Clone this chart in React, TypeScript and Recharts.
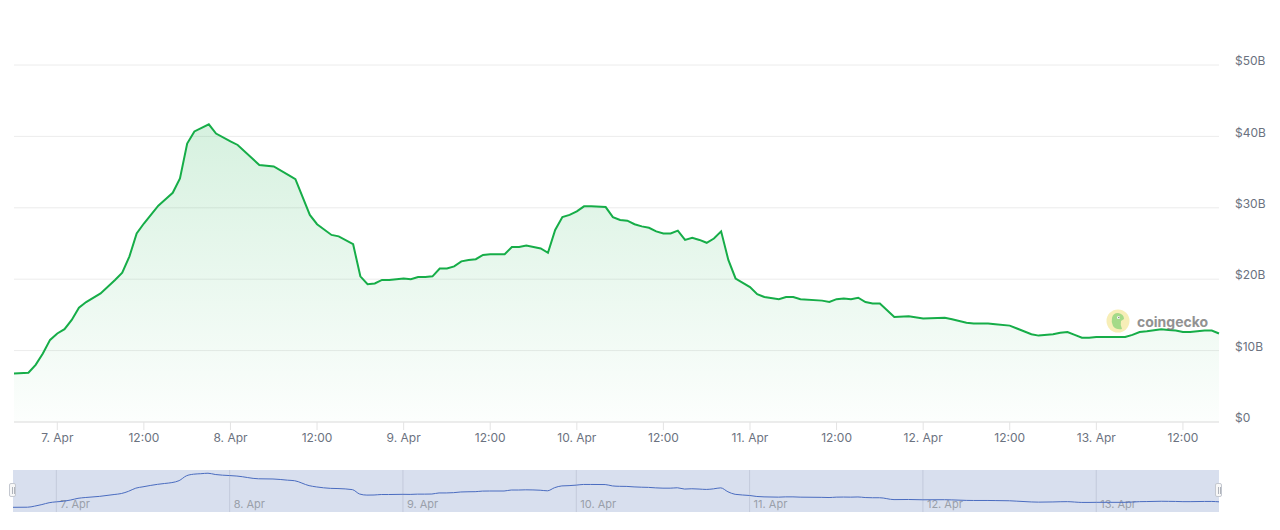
import React from 'react';
import {
  AreaChart,
  Area,
  LineChart,
  Line,
  XAxis,
  YAxis,
  CartesianGrid,
  ReferenceLine,
} from 'recharts';

// hours from 7 Apr 00:00, trading volume in $B
const hours = [
  -6, -4, -3, -2, -1, 0, 1, 2, 3, 4, 6, 8, 9, 10, 11, 12, 14, 15, 16, 17, 18, 19, 20, 21, 22,
  24, 25, 28, 30, 32, 33, 35, 36, 38, 39, 41, 42, 43, 44, 45, 46, 48, 49, 50, 51, 52, 53, 54,
  55, 56, 57, 58, 59, 60, 62, 63, 64, 65, 67, 68, 69, 70, 71, 72, 73, 74, 76, 77, 78, 79, 80,
  81, 82, 83, 84, 85, 86, 87, 88, 89, 90, 91, 92, 93, 94, 96, 97, 98, 100, 101, 102, 103, 106,
  107, 108, 109, 110, 111, 112, 113, 114, 116, 118, 120, 123, 124, 126, 127, 129, 130, 132,
  133, 135, 136, 138, 139, 140, 141, 142, 143, 144, 146, 148, 149, 150, 151, 153, 154, 155,
  156, 157, 159, 160, 161,
];
const volume = [
  6.8, 6.9, 8.0, 9.6, 11.5, 12.4, 13.0, 14.3, 16.0, 16.8, 18.0, 19.9, 20.9, 23.2, 26.4, 27.8,
  30.3, 31.2, 32.1, 34.1, 39.0, 40.7, 41.2, 41.7, 40.4, 39.3, 38.8, 36.0, 35.8, 34.6, 34.0,
  29.0, 27.7, 26.2, 26.0, 24.9, 20.4, 19.3, 19.4, 19.9, 19.9, 20.1, 20.0, 20.3, 20.3, 20.4,
  21.5, 21.5, 21.8, 22.5, 22.7, 22.8, 23.4, 23.5, 23.5, 24.5, 24.5, 24.7, 24.3, 23.7, 26.9,
  28.7, 29.0, 29.5, 30.2, 30.2, 30.1, 28.7, 28.3, 28.2, 27.7, 27.4, 27.2, 26.7, 26.4, 26.4,
  26.8, 25.5, 25.8, 25.5, 25.1, 25.7, 26.7, 22.7, 20.1, 18.9, 17.9, 17.5, 17.2, 17.5, 17.5,
  17.2, 17.0, 16.8, 17.2, 17.3, 17.2, 17.4, 16.8, 16.6, 16.6, 14.7, 14.8, 14.5, 14.6, 14.4,
  13.9, 13.8, 13.8, 13.7, 13.5, 13.1, 12.3, 12.1, 12.3, 12.5, 12.6, 12.2, 11.8, 11.8, 11.9,
  11.9, 11.9, 12.2, 12.6, 12.7, 13.0, 12.9, 12.8, 12.6, 12.6, 12.8, 12.8, 12.4,
];

const xTicks = [0, 12, 24, 36, 48, 60, 72, 84, 96, 108, 120, 132, 144, 156];
const dayTicks = [0, 24, 48, 72, 96, 120, 144];
const yTicks = [0, 10, 20, 30, 40, 50];

const data = hours.map((h, i) => ({ h, v: volume[i] }));

const FONT = 'Inter, "Open Sans", system-ui, sans-serif';
const LABEL = '#6b7280';
const GREEN = '#16ad48';

const dayLabel = (h: number) => `${7 + Math.round(h / 24)}. Apr`;
const xLabel = (h: number) => (h % 24 === 0 ? dayLabel(h) : '12:00');
const yLabel = (v: number) => (v === 0 ? '$0' : `$${v}B`);

const YTick = (props: any) => (
  <text
    x={props.x}
    y={props.y - 3}
    fill={LABEL}
    fontSize={12}
    fontFamily={FONT}
    textAnchor="start"
    dominantBaseline="middle"
  >
    {yLabel(props.payload.value)}
  </text>
);

const NavLabel = (props: any) => {
  const vb = props.viewBox || {};
  return (
    <text
      x={vb.x + 4}
      y={vb.y + vb.height - 4}
      fill="#9aa0aa"
      fontSize={11}
      fontFamily={FONT}
    >
      {props.value}
    </text>
  );
};

const Handle = ({ left }: { left: number }) => (
  <div
    style={{
      position: 'absolute',
      left,
      top: 483,
      width: 7,
      height: 14,
      background: '#f7f7f7',
      border: '1px solid #c4c8d0',
      borderRadius: 2,
      boxSizing: 'border-box',
    }}
  >
    <div style={{ position: 'absolute', left: 1.5, top: 3, width: 1, height: 7, background: '#b0b4bc' }} />
    <div style={{ position: 'absolute', left: 3.5, top: 3, width: 1, height: 7, background: '#b0b4bc' }} />
  </div>
);

export default function App() {
  return (
    <div style={{ position: 'absolute', left: 0, top: 0, width: 1280, height: 530, background: '#fff' }}>
      <AreaChart width={1280} height={460} data={data} margin={{ top: 65, right: 0, bottom: 0, left: 14 }}>
        <defs>
          <linearGradient id="volFill" x1="0" y1="0" x2="0" y2="1">
            <stop offset="0%" stopColor="#1cb24f" stopOpacity={0.3} />
            <stop offset="100%" stopColor="#1cb24f" stopOpacity={0.02} />
          </linearGradient>
        </defs>
        <CartesianGrid vertical={false} stroke="#ececec" />
        <XAxis
          dataKey="h"
          type="number"
          domain={[-6, 161]}
          ticks={xTicks}
          tickFormatter={xLabel}
          height={38}
          axisLine={{ stroke: '#e3e3e3' }}
          tickLine={{ stroke: '#e3e3e3' }}
          tickSize={8}
          tickMargin={3}
          tick={{ fill: LABEL, fontSize: 12, fontFamily: FONT }}
          interval={0}
        />
        <YAxis
          orientation="right"
          domain={[0, 50]}
          ticks={yTicks}
          width={61}
          axisLine={false}
          tickLine={false}
          tickSize={14}
          tickMargin={2}
          tick={<YTick />}
        />
        <Area
          type="linear"
          dataKey="v"
          stroke={GREEN}
          strokeWidth={2}
          fill="url(#volFill)"
          isAnimationActive={false}
          dot={false}
          activeDot={false}
        />
      </AreaChart>

      {/* coingecko watermark */}
      <div style={{ position: 'absolute', left: 1106, top: 309, display: 'flex', alignItems: 'center', opacity: 0.8 }}>
        <svg width={24} height={24}>
          <circle cx={12} cy={12} r={11.5} fill="#f6eba6" />
          <path d="M6 9 Q7 4 12 4 Q18 5 18 10 L15 12 Q14 16 16 20 Q10 21 7 17 Q5 13 6 9 Z" fill="#8ed16b" />
          <circle cx={12.5} cy={8.5} r={1.5} fill="#fff" />
          <circle cx={12.8} cy={8.5} r={0.7} fill="#555" />
        </svg>
        <span style={{ marginLeft: 7, fontFamily: FONT, fontWeight: 700, fontSize: 14, color: '#777' }}>
          coingecko
        </span>
      </div>

      {/* navigator */}
      <div style={{ position: 'absolute', left: 13, top: 470, width: 1206, height: 42, background: '#d8dfee' }}>
        <LineChart width={1206} height={42} data={data} margin={{ top: 0, right: 0, bottom: 0, left: 0 }}>
          <XAxis dataKey="h" type="number" domain={[-6, 161]} hide />
          <YAxis domain={[2, 45]} hide />
          {dayTicks.map((d) => (
            <ReferenceLine
              key={d}
              x={d}
              stroke="#c3cadb"
              label={<NavLabel value={dayLabel(d)} />}
            />
          ))}
          <Line
            type="monotone"
            dataKey="v"
            stroke="#4a6cc0"
            strokeWidth={1}
            dot={false}
            isAnimationActive={false}
          />
        </LineChart>
      </div>
      <Handle left={9} />
      <Handle left={1215} />
    </div>
  );
}
